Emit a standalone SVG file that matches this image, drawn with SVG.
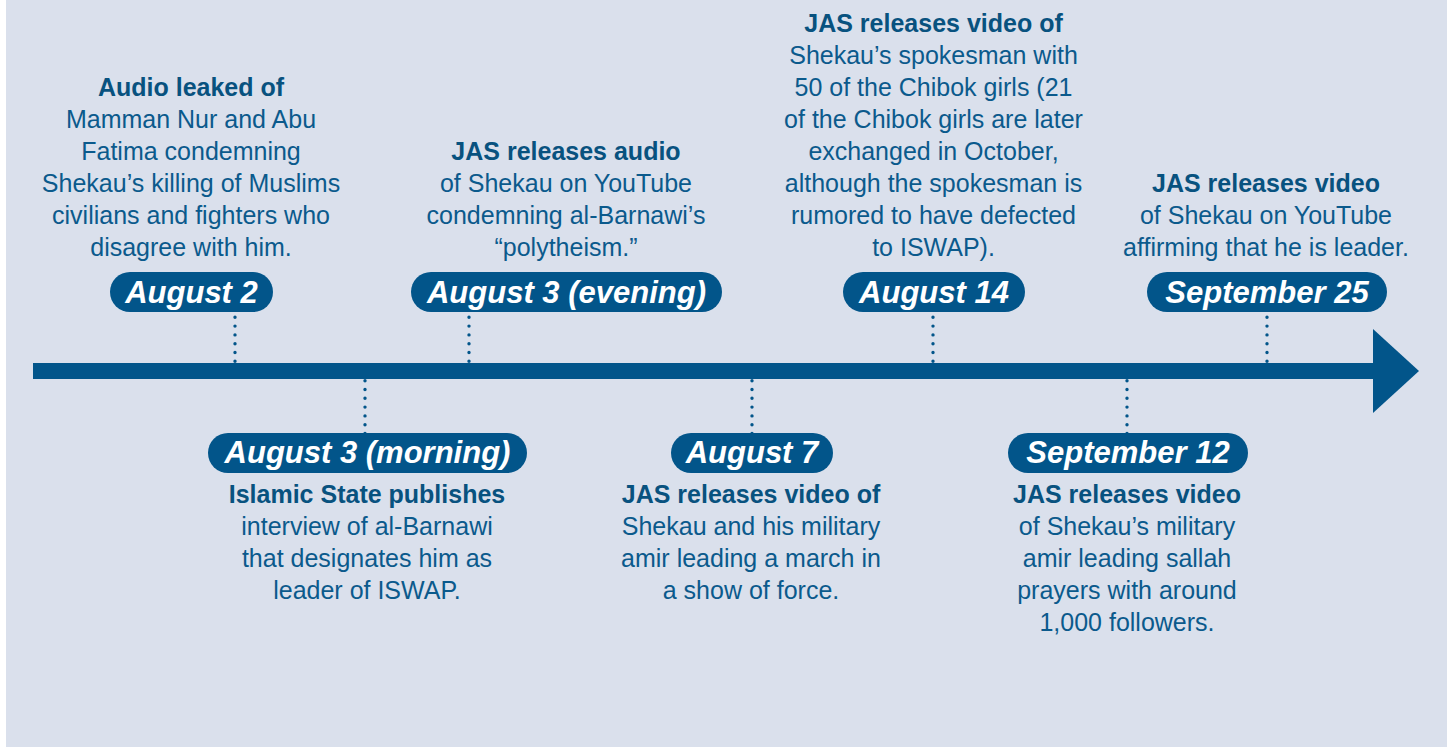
<svg xmlns="http://www.w3.org/2000/svg" width="1447" height="747" viewBox="0 0 1447 747">
<style>
.bg{fill:#dae0ec}
.pill{fill:#02558a}
.date{font-family:"Liberation Sans",Arial,sans-serif;font-weight:bold;font-style:italic;font-size:31px;fill:#ffffff;text-anchor:middle}
.desc{font-family:"Liberation Sans",Arial,sans-serif;font-size:25px;fill:#0b5a8c;text-anchor:middle}
.b{font-weight:bold;fill:#08527f}
.dot{stroke:#02558a;stroke-width:3.4;stroke-linecap:round;stroke-dasharray:0 8.8;fill:none}
.axis{fill:#02558a}
</style>
<rect x="0" y="0" width="1447" height="747" fill="#ffffff"/>
<rect class="bg" x="6" y="0" width="1441" height="747"/>

<g id="connectors">
<rect class="axis" x="33" y="363" width="1341" height="16"/>
<polygon class="axis" points="1373,329 1419,371 1373,413"/>
<path class="dot" d="M235 317.3V362"/>
<path class="dot" d="M469 317.3V362"/>
<path class="dot" d="M933 317.3V362"/>
<path class="dot" d="M1267 317.3V362"/>
<path class="dot" d="M365 380.7V434"/>
<path class="dot" d="M752 380.7V434"/>
<path class="dot" d="M1127 380.7V434"/>
</g>

<g id="aug2">
<rect class="pill" x="110" y="272" width="163" height="40" rx="20"/>
<text class="date" x="191.5" y="303">August 2</text>
<text class="desc"><tspan class="b" x="191" y="96">Audio leaked of</tspan><tspan x="191" y="128">Mamman Nur and Abu</tspan><tspan x="191" y="160">Fatima condemning</tspan><tspan x="191" y="192">Shekau’s killing of Muslims</tspan><tspan x="191" y="224">civilians and fighters who</tspan><tspan x="191" y="256">disagree with him.</tspan></text>
</g>

<g id="aug3morning">
<rect class="pill" x="208" y="433" width="319" height="40" rx="20"/>
<text class="date" x="367.5" y="463">August 3 (morning)</text>
<text class="desc"><tspan class="b" x="367" y="503">Islamic State publishes</tspan><tspan x="367" y="535">interview of al-Barnawi</tspan><tspan x="367" y="567">that designates him as</tspan><tspan x="367" y="599">leader of ISWAP.</tspan></text>
</g>

<g id="aug3evening">
<rect class="pill" x="411" y="272" width="311" height="40" rx="20"/>
<text class="date" x="566.5" y="303">August 3 (evening)</text>
<text class="desc"><tspan class="b" x="566" y="160">JAS releases audio</tspan><tspan x="566" y="192">of Shekau on YouTube</tspan><tspan x="566" y="224">condemning al-Barnawi’s</tspan><tspan x="566" y="256">“polytheism.”</tspan></text>
</g>

<g id="aug7">
<rect class="pill" x="671" y="433" width="162" height="40" rx="20"/>
<text class="date" x="752" y="463">August 7</text>
<text class="desc"><tspan class="b" x="751" y="503">JAS releases video of</tspan><tspan x="751" y="535">Shekau and his military</tspan><tspan x="751" y="567">amir leading a march in</tspan><tspan x="751" y="599">a show of force.</tspan></text>
</g>

<g id="aug14">
<rect class="pill" x="843" y="272" width="182" height="40" rx="20"/>
<text class="date" x="934" y="303">August 14</text>
<text class="desc"><tspan class="b" x="933.5" y="32">JAS releases video of</tspan><tspan x="933.5" y="64">Shekau’s spokesman with</tspan><tspan x="933.5" y="96">50 of the Chibok girls (21</tspan><tspan x="933.5" y="128">of the Chibok girls are later</tspan><tspan x="933.5" y="160">exchanged in October,</tspan><tspan x="933.5" y="192">although the spokesman is</tspan><tspan x="933.5" y="224">rumored to have defected</tspan><tspan x="933.5" y="256">to ISWAP).</tspan></text>
</g>

<g id="sep12">
<rect class="pill" x="1008" y="433" width="240" height="40" rx="20"/>
<text class="date" x="1128" y="463">September 12</text>
<text class="desc"><tspan class="b" x="1127" y="503">JAS releases video</tspan><tspan x="1127" y="535">of Shekau’s military</tspan><tspan x="1127" y="567">amir leading sallah</tspan><tspan x="1127" y="599">prayers with around</tspan><tspan x="1127" y="631">1,000 followers.</tspan></text>
</g>

<g id="sep25">
<rect class="pill" x="1147" y="272" width="240" height="40" rx="20"/>
<text class="date" x="1267" y="303">September 25</text>
<text class="desc"><tspan class="b" x="1266" y="192">JAS releases video</tspan><tspan x="1266" y="224">of Shekau on YouTube</tspan><tspan x="1266" y="256">affirming that he is leader.</tspan></text>
</g>
</svg>
